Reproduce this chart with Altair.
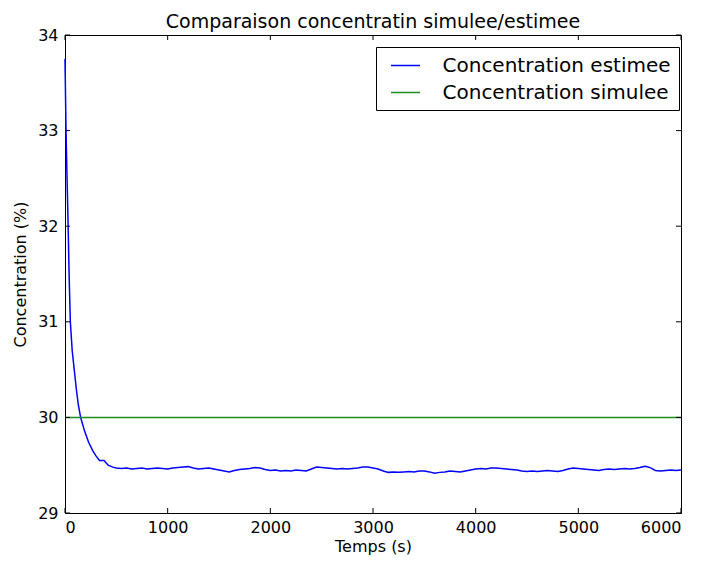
import altair as alt
import pandas as pd

# ---- data ----
t_est = [0, 10, 20, 29, 40, 52, 70, 88, 110, 130, 152, 190, 230, 271, 300, 336, 380, 420, 465, 500,
         550, 600, 650, 700, 750, 800, 850, 900, 950, 1000, 1050, 1100, 1150, 1200, 1250, 1300,
         1350, 1400, 1450, 1500, 1550, 1600, 1650, 1700, 1750, 1800, 1850, 1900, 1950, 2000,
         2050, 2100, 2150, 2200, 2250, 2300, 2350, 2400, 2450, 2500, 2550, 2600, 2650, 2700,
         2750, 2800, 2850, 2900, 2950, 3000, 3050, 3100, 3150, 3200, 3250, 3300, 3350, 3400,
         3450, 3500, 3550, 3600, 3650, 3700, 3750, 3800, 3850, 3900, 3950, 4000, 4050, 4100,
         4150, 4200, 4250, 4300, 4350, 4400, 4450, 4500, 4550, 4600, 4650, 4700, 4750, 4800,
         4850, 4900, 4950, 5000, 5050, 5100, 5150, 5200, 5250, 5300, 5350, 5400, 5450, 5500,
         5550, 5600, 5650, 5700, 5750, 5800, 5850, 5900, 5950, 6000]
c_est = [33.75, 33.0, 32.5, 32.08, 31.5, 31.0, 30.7, 30.52, 30.3, 30.13, 30.0, 29.86, 29.74, 29.65,
         29.6, 29.55, 29.55, 29.5, 29.48, 29.47,
         29.465, 29.47, 29.46, 29.465, 29.47, 29.46, 29.465, 29.47, 29.465, 29.46, 29.47, 29.475,
         29.48, 29.485, 29.47, 29.46, 29.465, 29.47, 29.46, 29.45, 29.44, 29.43, 29.445, 29.455,
         29.46, 29.465, 29.475, 29.47, 29.455, 29.445, 29.45, 29.44, 29.445, 29.44, 29.45, 29.445,
         29.44, 29.46, 29.48, 29.475, 29.47, 29.465, 29.46, 29.465, 29.46, 29.465, 29.47, 29.48,
         29.48, 29.47, 29.46, 29.44, 29.425, 29.43, 29.425, 29.43, 29.435, 29.43, 29.44, 29.44,
         29.43, 29.415, 29.425, 29.43, 29.44, 29.435, 29.43, 29.44, 29.45, 29.46, 29.465, 29.46,
         29.47, 29.47, 29.465, 29.46, 29.455, 29.45, 29.44, 29.435, 29.44, 29.435, 29.44, 29.445,
         29.44, 29.435, 29.445, 29.46, 29.47, 29.465, 29.46, 29.455, 29.45, 29.445, 29.455, 29.46,
         29.455, 29.46, 29.465, 29.46, 29.465, 29.475, 29.49, 29.475, 29.445, 29.44, 29.445,
         29.45, 29.445, 29.45]
t_sim = [0, 6000]
c_sim = [30.0, 30.0]
series_names = ["Concentration estimee", "Concentration simulee"]
series_colors = ["#0000ff", "#1e8c1e"]
x_ticks = [0, 1000, 2000, 3000, 4000, 5000, 6000]
y_ticks = [29, 30, 31, 32, 33, 34]

W, H = 616, 478
FONT = "DejaVu Sans"

df = pd.concat([
    pd.DataFrame({"t": t_est, "c": c_est, "s": series_names[0]}),
    pd.DataFrame({"t": t_sim, "c": c_sim, "s": series_names[1]}),
])
xt = pd.DataFrame({"t": x_ticks})
yt = pd.DataFrame({"c": y_ticks})

xscale = alt.Scale(domain=[0, 6000], nice=False, zero=False)
yscale = alt.Scale(domain=[29, 34], nice=False, zero=False)

lines = alt.Chart(df).mark_line(strokeWidth=1.5).encode(
    x=alt.X("t:Q", scale=xscale, title="Temps (s)",
            axis=alt.Axis(values=x_ticks, format="d", ticks=False, tickSize=0, domain=False,
                          grid=False, labelPadding=6, titlePadding=3)),
    y=alt.Y("c:Q", scale=yscale, title="Concentration (%)",
            axis=alt.Axis(values=y_ticks, format="d", ticks=False, tickSize=0, domain=False,
                          grid=False, labelPadding=7, titlePadding=9)),
    color=alt.Color("s:N", scale=alt.Scale(domain=series_names, range=series_colors),
                    legend=alt.Legend(title=None, orient="none", legendX=311, legendY=12,
                                      symbolType="M-0.35,0H2.55", symbolSize=400,
                                      symbolStrokeWidth=1.5, symbolFillColor="transparent",
                                      labelFontSize=20, labelFont=FONT, labelColor="black",
                                      labelLimit=0, labelOffset=37, padding=7.5, rowPadding=6,
                                      strokeColor="black", fillColor="white", cornerRadius=0)),
    order=alt.Order("t:Q"),
)

tick_b = alt.Chart(xt).mark_rule(color="black", strokeWidth=1).encode(
    x=alt.X("t:Q", scale=xscale), y=alt.value(H), y2=alt.value(H - 5))
tick_t = alt.Chart(xt).mark_rule(color="black", strokeWidth=1).encode(
    x=alt.X("t:Q", scale=xscale), y=alt.value(0), y2=alt.value(5))
tick_l = alt.Chart(yt).mark_rule(color="black", strokeWidth=1).encode(
    y=alt.Y("c:Q", scale=yscale), x=alt.value(0), x2=alt.value(5))
tick_r = alt.Chart(yt).mark_rule(color="black", strokeWidth=1).encode(
    y=alt.Y("c:Q", scale=yscale), x=alt.value(W), x2=alt.value(W - 5))

chart = alt.layer(lines, tick_b, tick_t, tick_l, tick_r).properties(
    width=W, height=H,
    background="white",
    title=alt.TitleParams("Comparaison concentratin simulee/estimee", fontSize=19, font=FONT,
                          fontWeight="normal", color="black", offset=-5, anchor="middle",
                          frame="group"),
    autosize=alt.AutoSizeParams(type="none"),
    padding={"left": 57, "top": 27, "right": 19, "bottom": 43},
).configure_view(stroke="black", strokeWidth=1).configure_axis(
    labelFont=FONT, labelFontSize=16, labelColor="black",
    titleFont=FONT, titleFontSize=16, titleFontWeight="normal", titleColor="black",
)

chart.save("out.html", embed_options={"renderer": "svg", "actions": False})
